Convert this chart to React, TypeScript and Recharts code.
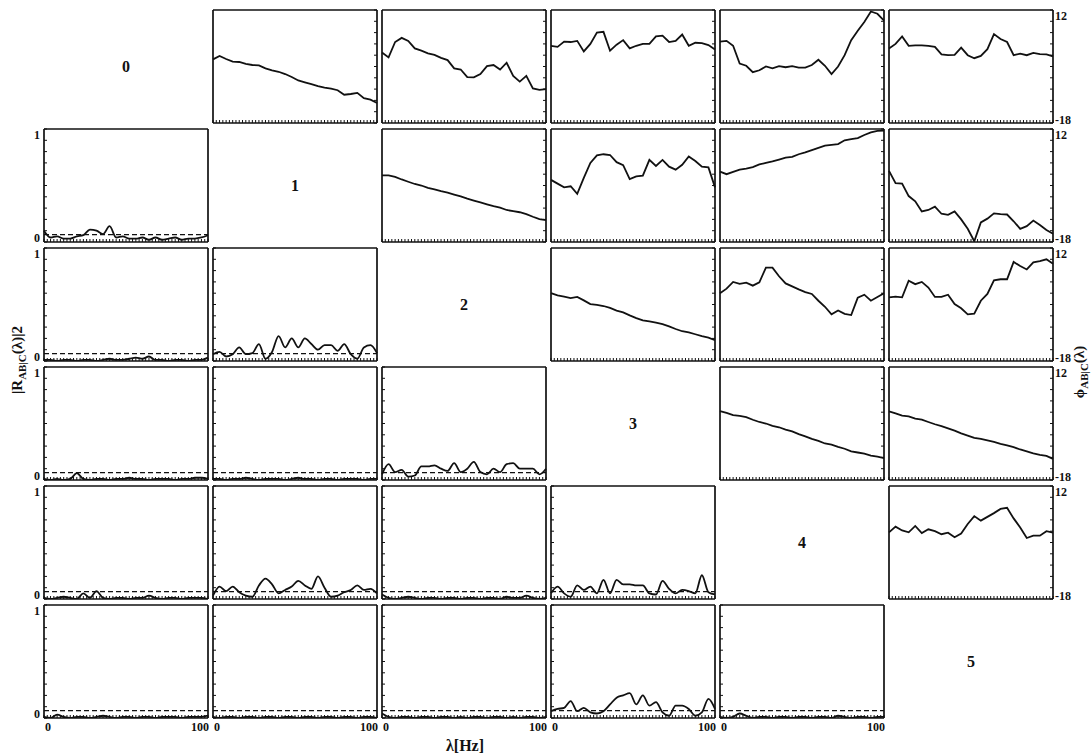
import React from 'react';
import { LineChart, Line, XAxis, YAxis, ReferenceLine } from 'recharts';

// ---------- data ----------
const FREQ = [0, 4, 8, 12, 16, 20, 24, 28, 32, 36, 40, 44, 48, 52, 56, 60, 64, 68, 72, 76, 80, 84, 88, 92, 96, 100];
const FREQ_TICKS = [0, 2, 4, 6, 8, 10, 12, 14, 16, 18, 20, 22, 24, 26, 28, 30, 32, 34, 36, 38, 40, 42, 44, 46, 48, 50, 52, 54, 56, 58, 60, 62, 64, 66, 68, 70, 72, 74, 76, 78, 80, 82, 84, 86, 88, 90, 92, 94, 96, 98, 100];
const COH_TICKS = [0, 0.1, 0.2, 0.3, 0.4, 0.5, 0.6, 0.7, 0.8, 0.9, 1];
const PHASE_TICKS = [-18, -15, -12, -9, -6, -3, 0, 3, 6, 9, 12];
const X_LABELS = [0, 100];
const COH_LABELS = [0, 1];
const PHASE_LABELS = [-18, 12];
const NODE_LABELS = ['0', '1', '2', '3', '4', '5'];
const NOISE_LEVEL = 0.065;

// phase spectra (upper triangle)
const P01 = [-1.1, -0.2, -1.0, -1.7, -1.8, -2.3, -2.6, -2.7, -3.5, -4.0, -4.4, -5.0, -5.8, -6.7, -7.2, -7.7, -8.2, -8.6, -8.9, -9.3, -10.5, -10.3, -10.0, -11.4, -11.8, -12.7];
const P02 = [0.7, -0.6, 3.5, 4.6, 3.8, 1.8, 1.2, 0.5, 0.1, -0.7, -1.3, -3.5, -3.8, -5.8, -5.9, -5.0, -2.9, -2.6, -3.8, -2.0, -5.5, -7.0, -5.5, -8.8, -9.2, -9.0];
const P03 = [2.5, 2.2, 3.6, 3.5, 3.8, 1.0, 3.0, 6.0, 6.2, 1.2, 2.8, 4.0, 1.8, 2.5, 3.0, 3.0, 5.0, 5.2, 3.5, 3.8, 5.5, 2.5, 3.3, 3.2, 2.7, 1.5];
const P04 = [3.6, 3.8, 2.5, -2.2, -2.8, -4.5, -4.0, -3.0, -3.5, -2.9, -3.2, -2.9, -3.3, -3.3, -2.6, -1.2, -2.8, -5.0, -3.0, 0.0, 4.0, 6.5, 8.8, 11.6, 11.0, 9.2];
const P05 = [1.8, 3.0, 5.0, 2.5, 2.6, 2.6, 2.5, 2.2, 0.2, 0.0, 0.1, 2.0, 0.0, -0.8, -0.2, 1.6, 5.6, 4.3, 3.5, 0.0, 0.4, 0.0, 0.6, 0.3, 0.2, -0.3];
const P12 = [-0.3, -0.3, -0.7, -1.4, -2.0, -2.6, -3.0, -3.6, -4.0, -4.5, -4.9, -5.4, -5.9, -6.5, -7.0, -7.5, -8.0, -8.5, -8.9, -9.5, -9.8, -10.1, -10.6, -11.3, -11.9, -12.2];
const P13 = [-1.5, -2.5, -3.5, -3.2, -5.2, -1.0, 3.0, 5.0, 5.3, 5.1, 3.2, 2.4, -1.3, -0.6, -0.4, 3.8, 2.2, 3.8, 2.0, 1.2, 2.5, 4.7, 3.5, 2.0, 1.8, -3.5];
const P14 = [0.7, 0.0, 0.6, 1.2, 1.5, 1.9, 2.6, 3.0, 3.4, 3.9, 4.4, 4.6, 5.3, 5.8, 6.4, 7.0, 7.6, 7.8, 8.0, 9.0, 9.3, 9.6, 10.4, 11.1, 11.5, 11.6];
const P15 = [0.9, -2.4, -2.5, -5.8, -7.2, -9.9, -9.5, -8.6, -10.5, -10.8, -9.9, -12.0, -14.5, -17.8, -12.8, -11.8, -10.4, -10.6, -10.7, -12.5, -14.5, -13.8, -12.3, -13.5, -14.8, -15.8];
const P23 = [0.0, -0.6, -0.9, -1.3, -1.0, -1.9, -2.9, -3.1, -3.4, -3.9, -4.6, -5.1, -5.9, -6.6, -7.2, -7.5, -7.8, -8.2, -8.8, -9.5, -10.1, -10.4, -10.9, -11.4, -11.8, -12.5];
const P24 = [0.0, 1.2, 3.0, 2.5, 2.8, 2.0, 2.9, 6.8, 6.8, 4.5, 2.6, 1.8, 1.0, 0.3, -0.2, -2.0, -3.6, -5.6, -4.6, -5.5, -5.8, -1.2, -0.4, -2.0, -1.0, 0.0];
const P25 = [-1.1, -0.9, -1.1, 3.3, 2.4, 3.0, 1.5, -1.0, -1.0, -0.4, -2.9, -4.0, -5.6, -5.4, -2.0, -0.2, 3.4, 3.7, 3.7, 8.3, 7.2, 6.3, 8.2, 8.5, 9.0, 7.8];
const P34 = [0.3, -0.2, -0.8, -1.0, -1.3, -2.0, -2.6, -3.0, -3.6, -4.0, -4.6, -5.1, -5.8, -6.4, -7.1, -7.6, -8.3, -8.6, -9.2, -9.7, -10.4, -10.7, -11.0, -11.5, -11.8, -12.2];
const P35 = [0.2, -0.3, -0.9, -1.1, -1.7, -2.0, -2.6, -3.2, -3.7, -4.3, -4.9, -5.6, -6.2, -6.8, -7.1, -7.5, -7.9, -8.4, -8.8, -9.3, -9.9, -10.4, -10.9, -11.3, -11.6, -12.4];
const P45 = [-0.3, 1.2, 0.2, -0.3, 1.4, -0.5, 0.5, 0.0, -0.8, -0.4, -1.6, -0.6, 1.9, 4.0, 2.8, 3.8, 4.8, 5.9, 6.2, 3.4, 1.0, -1.8, -1.2, -1.2, 0.0, -0.4];

// coherence spectra (lower triangle)
const C10 = [0.10, 0.04, 0.05, 0.03, 0.03, 0.05, 0.06, 0.11, 0.10, 0.07, 0.14, 0.04, 0.05, 0.03, 0.03, 0.04, 0.02, 0.04, 0.02, 0.03, 0.04, 0.02, 0.03, 0.03, 0.04, 0.06];
const C20 = [0.01, 0.01, 0.00, 0.01, 0.01, 0.00, 0.01, 0.01, 0.00, 0.01, 0.02, 0.01, 0.01, 0.02, 0.03, 0.02, 0.04, 0.01, 0.01, 0.00, 0.01, 0.01, 0.00, 0.01, 0.01, 0.03];
const C21 = [0.06, 0.08, 0.04, 0.06, 0.12, 0.06, 0.07, 0.15, 0.02, 0.08, 0.22, 0.12, 0.20, 0.12, 0.20, 0.15, 0.10, 0.14, 0.14, 0.09, 0.15, 0.06, 0.02, 0.12, 0.14, 0.07];
const C30 = [0.01, 0.00, 0.01, 0.00, 0.01, 0.06, 0.01, 0.00, 0.01, 0.01, 0.00, 0.01, 0.01, 0.02, 0.01, 0.01, 0.00, 0.01, 0.01, 0.01, 0.00, 0.01, 0.01, 0.02, 0.02, 0.01];
const C31 = [0.01, 0.01, 0.00, 0.01, 0.01, 0.02, 0.01, 0.00, 0.01, 0.01, 0.01, 0.00, 0.01, 0.02, 0.01, 0.01, 0.00, 0.01, 0.01, 0.00, 0.01, 0.01, 0.01, 0.00, 0.01, 0.01];
const C32 = [0.05, 0.14, 0.07, 0.09, 0.03, 0.04, 0.12, 0.12, 0.13, 0.10, 0.08, 0.15, 0.07, 0.10, 0.16, 0.07, 0.05, 0.10, 0.07, 0.14, 0.15, 0.10, 0.10, 0.10, 0.05, 0.10];
const C40 = [0.01, 0.00, 0.01, 0.02, 0.01, 0.00, 0.05, 0.01, 0.07, 0.01, 0.00, 0.01, 0.01, 0.00, 0.01, 0.01, 0.03, 0.01, 0.00, 0.01, 0.01, 0.00, 0.01, 0.01, 0.01, 0.00];
const C41 = [0.03, 0.11, 0.07, 0.11, 0.06, 0.03, 0.02, 0.12, 0.18, 0.13, 0.05, 0.08, 0.11, 0.16, 0.12, 0.09, 0.20, 0.10, 0.02, 0.03, 0.06, 0.08, 0.12, 0.08, 0.09, 0.05];
const C42 = [0.04, 0.01, 0.00, 0.01, 0.02, 0.01, 0.00, 0.01, 0.01, 0.00, 0.01, 0.01, 0.00, 0.01, 0.01, 0.00, 0.01, 0.01, 0.00, 0.02, 0.01, 0.01, 0.03, 0.01, 0.00, 0.01];
const C43 = [0.05, 0.11, 0.05, 0.02, 0.12, 0.08, 0.11, 0.05, 0.17, 0.05, 0.17, 0.13, 0.13, 0.12, 0.12, 0.05, 0.04, 0.16, 0.09, 0.05, 0.08, 0.07, 0.05, 0.21, 0.06, 0.04];
const C50 = [0.01, 0.00, 0.03, 0.01, 0.00, 0.01, 0.01, 0.00, 0.01, 0.02, 0.01, 0.00, 0.01, 0.01, 0.00, 0.01, 0.01, 0.00, 0.01, 0.01, 0.01, 0.00, 0.01, 0.01, 0.01, 0.02];
const C51 = [0.01, 0.00, 0.01, 0.01, 0.00, 0.01, 0.01, 0.00, 0.01, 0.01, 0.00, 0.01, 0.01, 0.00, 0.01, 0.01, 0.00, 0.01, 0.01, 0.00, 0.01, 0.01, 0.00, 0.01, 0.01, 0.00];
const C52 = [0.04, 0.01, 0.00, 0.01, 0.01, 0.00, 0.01, 0.01, 0.00, 0.01, 0.01, 0.00, 0.01, 0.00, 0.01, 0.01, 0.00, 0.01, 0.01, 0.00, 0.01, 0.00, 0.01, 0.01, 0.00, 0.01];
const C53 = [0.06, 0.08, 0.09, 0.15, 0.06, 0.09, 0.05, 0.04, 0.06, 0.12, 0.18, 0.20, 0.22, 0.12, 0.20, 0.11, 0.14, 0.05, 0.02, 0.11, 0.11, 0.08, 0.02, 0.05, 0.17, 0.08];
const C54 = [0.01, 0.00, 0.01, 0.04, 0.02, 0.00, 0.01, 0.01, 0.00, 0.01, 0.01, 0.00, 0.01, 0.01, 0.00, 0.01, 0.01, 0.00, 0.02, 0.01, 0.00, 0.01, 0.01, 0.00, 0.01, 0.01];

const PANELS = [
  { row: 0, col: 1, kind: 'phase', values: P01 },
  { row: 0, col: 2, kind: 'phase', values: P02 },
  { row: 0, col: 3, kind: 'phase', values: P03 },
  { row: 0, col: 4, kind: 'phase', values: P04 },
  { row: 0, col: 5, kind: 'phase', values: P05 },
  { row: 1, col: 2, kind: 'phase', values: P12 },
  { row: 1, col: 3, kind: 'phase', values: P13 },
  { row: 1, col: 4, kind: 'phase', values: P14 },
  { row: 1, col: 5, kind: 'phase', values: P15 },
  { row: 2, col: 3, kind: 'phase', values: P23 },
  { row: 2, col: 4, kind: 'phase', values: P24 },
  { row: 2, col: 5, kind: 'phase', values: P25 },
  { row: 3, col: 4, kind: 'phase', values: P34 },
  { row: 3, col: 5, kind: 'phase', values: P35 },
  { row: 4, col: 5, kind: 'phase', values: P45 },
  { row: 1, col: 0, kind: 'coh', values: C10 },
  { row: 2, col: 0, kind: 'coh', values: C20 },
  { row: 2, col: 1, kind: 'coh', values: C21 },
  { row: 3, col: 0, kind: 'coh', values: C30 },
  { row: 3, col: 1, kind: 'coh', values: C31 },
  { row: 3, col: 2, kind: 'coh', values: C32 },
  { row: 4, col: 0, kind: 'coh', values: C40 },
  { row: 4, col: 1, kind: 'coh', values: C41 },
  { row: 4, col: 2, kind: 'coh', values: C42 },
  { row: 4, col: 3, kind: 'coh', values: C43 },
  { row: 5, col: 0, kind: 'coh', values: C50 },
  { row: 5, col: 1, kind: 'coh', values: C51 },
  { row: 5, col: 2, kind: 'coh', values: C52 },
  { row: 5, col: 3, kind: 'coh', values: C53 },
  { row: 5, col: 4, kind: 'coh', values: C54 },
];

// ---------- layout ----------
const COL_X = [44, 213, 382, 551, 720, 889];
const ROW_Y = [10, 129, 248, 367, 486, 605];
const PW = 164;
const PH = 113;
const PAD = 30;
const LAB_W = 26;
const LAB_H = 18;
const FONT = '"Liberation Serif", "Times New Roman", serif';
const INK = '#111';
const AXIS = { stroke: INK, strokeWidth: 1.7 };
const TICK = { stroke: INK, strokeWidth: 1 };

const emptyTick = () => <g />;

const xLabelTick = (p: any) => {
  const v = p.payload.value;
  return (
    <text x={p.x + 1} y={p.y} dy="0.72em" textAnchor={v === 0 ? 'start' : 'end'}
      fontFamily={FONT} fontWeight="bold" fontSize={12} fill={INK}>{v}</text>
  );
};
const cohLabelTick = (p: any) => {
  const v = p.payload.value;
  return (
    <text x={p.x} y={p.y + (v === 1 ? 6 : -4)} dy="0.355em" textAnchor="end"
      fontFamily={FONT} fontWeight="bold" fontSize={12} fill={INK}>{v}</text>
  );
};
const phaseLabelTick = (p: any) => {
  const v = p.payload.value;
  return (
    <text x={p.x} y={p.y + (v === 12 ? 6 : -3)} dy="0.355em" textAnchor="start"
      fontFamily={FONT} fontWeight="bold" fontSize={12} fill={INK}>{v}</text>
  );
};

function Panel({ row, col, kind, values }: any) {
  const isCoh = kind === 'coh';
  const data = FREQ.map((f, i) => ({ f, v: values[i] }));
  const showX = row === 5;
  const showLeft = isCoh && col === 0;
  const showRight = !isCoh && col === 5;
  const domain = isCoh ? [0, 1] : [-18, 12];
  const margin = {
    top: PAD,
    left: PAD - (showLeft ? LAB_W : 0),
    right: PAD - (showRight ? LAB_W : 0),
    bottom: PAD - (showX ? LAB_H : 0),
  };
  return (
    <div style={{ position: 'absolute', left: COL_X[col] - PAD, top: ROW_Y[row] - PAD }}>
      <LineChart width={PW + 2 * PAD} height={PH + 2 * PAD} data={data} margin={margin}>
        <XAxis xAxisId="b" dataKey="f" type="number" domain={[0, 100]} ticks={FREQ_TICKS} interval={0}
          mirror tick={emptyTick} tickSize={3} axisLine={AXIS} tickLine={TICK} />
        <XAxis xAxisId="t" orientation="top" dataKey="f" type="number" domain={[0, 100]}
          mirror tick={emptyTick} tickLine={false} axisLine={AXIS} />
        {showX && (
          <XAxis xAxisId="lab" dataKey="f" type="number" domain={[0, 100]} ticks={X_LABELS} interval={0}
            height={LAB_H} tickSize={0} tickMargin={4} axisLine={false} tickLine={false} tick={xLabelTick} />
        )}
        <YAxis yAxisId="l" dataKey="v" type="number" domain={domain} allowDataOverflow ticks={isCoh ? COH_TICKS : PHASE_TICKS} interval={0}
          mirror tick={emptyTick} tickSize={3} axisLine={AXIS} tickLine={isCoh ? TICK : false} />
        <YAxis yAxisId="r" dataKey="v" orientation="right" type="number" domain={domain} allowDataOverflow ticks={isCoh ? COH_TICKS : PHASE_TICKS} interval={0}
          mirror tick={emptyTick} tickSize={3} axisLine={AXIS} tickLine={isCoh ? false : TICK} />
        {showLeft && (
          <YAxis yAxisId="ll" dataKey="v" type="number" domain={domain} allowDataOverflow ticks={COH_LABELS} interval={0} width={LAB_W}
            tickSize={0} tickMargin={4} axisLine={false} tickLine={false} tick={cohLabelTick} />
        )}
        {showRight && (
          <YAxis yAxisId="rl" dataKey="v" orientation="right" type="number" domain={domain} allowDataOverflow ticks={PHASE_LABELS} interval={0} width={LAB_W}
            tickSize={0} tickMargin={2} axisLine={false} tickLine={false} tick={phaseLabelTick} />
        )}
        {isCoh && (
          <ReferenceLine xAxisId="b" yAxisId="l" y={NOISE_LEVEL} stroke={INK} strokeWidth={1.3} strokeDasharray="5 3" />
        )}
        <Line xAxisId="b" yAxisId="l" dataKey="v" type={isCoh ? 'monotone' : 'linear'} stroke={INK}
          strokeWidth={1.8} dot={false} isAnimationActive={false} />
      </LineChart>
    </div>
  );
}

export default function App() {
  return (
    <div style={{ position: 'absolute', left: 0, top: 0, width: 1091, height: 756, background: '#fff', overflow: 'hidden' }}>
      {PANELS.map((p) => (
        <Panel key={`${p.row}-${p.col}`} {...p} />
      ))}
      <svg width={1091} height={756} style={{ position: 'absolute', left: 0, top: 0, pointerEvents: 'none' }}>
        {NODE_LABELS.map((lab, i) => (
          <text key={lab} x={COL_X[i] + PW / 2} y={ROW_Y[i] + PH / 2} dy="0.35em" textAnchor="middle"
            fontFamily={FONT} fontWeight="bold" fontSize={16} fill={INK}>{lab}</text>
        ))}
        <text x={465} y={745} dy="0.35em" textAnchor="middle" fontFamily={FONT} fontWeight="bold" fontSize={16} fill={INK}>
          λ[Hz]
        </text>
        <text transform="translate(17,360) rotate(-90)" dy="0.35em" textAnchor="middle" fontFamily={FONT} fontWeight="bold" fontSize={15} fill={INK}>
          |R<tspan fontSize={11} dy="4">AB|C</tspan><tspan dy="-4">(λ)|2</tspan>
        </text>
        <text transform="translate(1079,372) rotate(-90)" dy="0.35em" textAnchor="middle" fontFamily={FONT} fontWeight="bold" fontSize={15} fill={INK}>
          ϕ<tspan fontSize={11} dy="4">AB|C</tspan><tspan dy="-4">(λ)</tspan>
        </text>
      </svg>
    </div>
  );
}
